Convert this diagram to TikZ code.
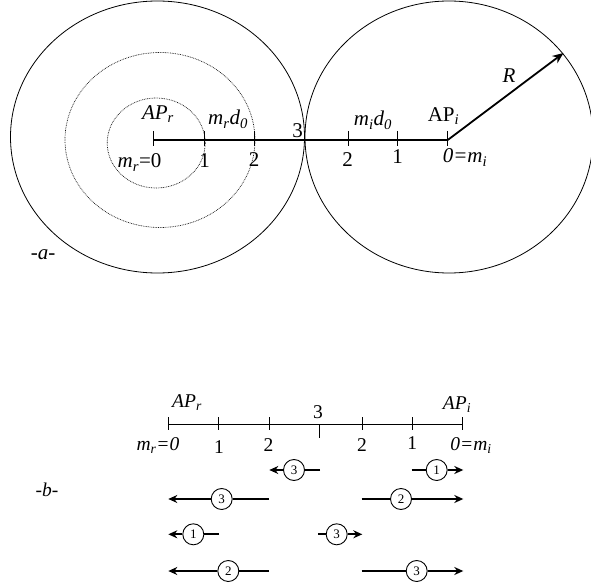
\documentclass[tikz,border=0pt]{standalone}
\usepackage{fontspec}
\setmainfont{Liberation Serif}
\usetikzlibrary{arrows.meta}
\begin{document}
\begin{tikzpicture}[x=1pt,y=-1pt,
  lbl/.style={inner sep=0pt, anchor=base, font=\fontsize{21}{25}\selectfont},
  lblb/.style={inner sep=0pt, anchor=base, font=\fontsize{19.5}{23}\selectfont},
  big/.style={line width=0.8pt},
  dot/.style={line width=0.7pt, dash pattern=on 0.8pt off 0.9pt, black!90},
  ax/.style={line width=1.2pt},
  tck/.style={line width=1pt},
  rarrow/.style={line width=1.8pt, -{Stealth[length=11pt,width=9pt]}},
  num/.style={circle, draw, line width=0.9pt, fill=white, inner sep=0pt, minimum size=21pt, font=\fontsize{13}{15}\selectfont},
  mv/.style={line width=1.8pt},
  mva/.style={line width=1.8pt, -{Stealth[length=9pt,width=8pt]}}]
\useasboundingbox (0,0) rectangle (591,585);
% ---------- part a ----------
\draw[big] (157.5,137) ellipse [x radius=147, y radius=136];
\draw[big] (449,137) ellipse [x radius=144, y radius=136];
\draw[dot] (156.2,143) ellipse [x radius=49, y radius=45];
\draw[dot] (160,140) ellipse [x radius=95, y radius=87.5];
\coordinate (apr) at (153.3,140);
\coordinate (api) at (447.7,140);
\coordinate (rtip) at (563.5,53);
\draw[ax] (apr) -- (api);
\foreach \x in {153.3,204.3,254.3,348.3,397.7,447.7}
  \draw[tck] (\x,131) -- (\x,146);
\draw[rarrow] (api) -- (rtip);
\node[lbl] (aAPr) at (158,119.3) {\textit{AP\textsubscript{r}}};
\node[lbl] (amrd) at (228,125) {\textit{m\textsubscript{r}d\textsubscript{0}}};
\node[lbl] (a3) at (297.5,138) {3};
\node[lbl] (amr0) at (139.5,168) {\textit{m\textsubscript{r}}=0};
\node[lbl] (a1l) at (204.5,168) {1};
\node[lbl] (a2l) at (254,166.7) {2};
\node[lbl] (amid) at (373,126) {\textit{m\textsubscript{i}d\textsubscript{0}}};
\node[lbl] (aAPi) at (443.5,121.7) {AP\textsubscript{\textit{i}}};
\node[lbl] (a2r) at (347.7,166.7) {2};
\node[lbl] (a1r) at (397.7,164) {1};
\node[lbl] (a0mi) at (465,163) {\textit{0=m\textsubscript{i}}};
\node[lbl] (aR) at (509,83) {\textit{R}};
\node[lbl] (alab) at (43,259) {\textit{-a-}};
% ---------- part b ----------
\coordinate (bl) at (168.3,424);
\coordinate (br) at (462.3,424);
\draw[tck] (bl) -- (br);
\foreach \x in {168.3,218.3,269,362.3,412.3,462.3}
  \draw[tck] (\x,417) -- (\x,430);
\draw[tck] (319.3,424) -- (319.3,438);
\node[lblb] (bAPr) at (187,407) {\textit{AP\textsubscript{r}}};
\node[lblb] (bAPi) at (457,409) {\textit{AP\textsubscript{i}}};
\node[lblb] (b3) at (318,418) {3};
\node[lblb] (bmr0) at (158,450) {\textit{m\textsubscript{r}=0}};
\node[lblb] (b1l) at (219,453) {1};
\node[lblb] (b2l) at (268.5,451.5) {2};
\node[lblb] (b2r) at (362,451.5) {2};
\node[lblb] (b1r) at (412.3,449.3) {1};
\node[lblb] (b0mi) at (471,450) {\textit{0=m\textsubscript{i}}};
\node[lblb] (blab) at (47,496) {\textit{-b-}};
% row 1
\coordinate (s1) at (320,470); \coordinate (e1) at (269.3,470);
\node[num] (c1) at (294,470) {3};
\draw[mv] (s1) -- (c1); \draw[mva] (c1) -- (e1);
\coordinate (s2) at (411.7,470); \coordinate (e2) at (463.3,470);
\node[num] (c2) at (436.7,470) {1};
\draw[mv] (s2) -- (c2); \draw[mva] (c2) -- (e2);
% row 2
\coordinate (s3) at (269,499); \coordinate (e3) at (168.3,499);
\node[num] (c3) at (221.7,499) {3};
\draw[mv] (s3) -- (c3); \draw[mva] (c3) -- (e3);
\coordinate (s4) at (361.7,499); \coordinate (e4) at (463.3,499);
\node[num] (c4) at (401,499) {2};
\draw[mv] (s4) -- (c4); \draw[mva] (c4) -- (e4);
% row 3
\coordinate (s5) at (219,534.3); \coordinate (e5) at (168.3,534.3);
\node[num] (c5) at (193.3,534.3) {1};
\draw[mv] (s5) -- (c5); \draw[mva] (c5) -- (e5);
\coordinate (s6) at (318.3,534.3); \coordinate (e6) at (362.3,534.3);
\node[num] (c6) at (336.7,534.3) {3};
\draw[mv] (s6) -- (c6); \draw[mva] (c6) -- (e6);
% row 4
\coordinate (s7) at (269,571); \coordinate (e7) at (168.3,571);
\node[num] (c7) at (228.3,571) {2};
\draw[mv] (s7) -- (c7); \draw[mva] (c7) -- (e7);
\coordinate (s8) at (361.7,571); \coordinate (e8) at (463.3,571);
\node[num] (c8) at (416.7,571) {3};
\draw[mv] (s8) -- (c8); \draw[mva] (c8) -- (e8);
\end{tikzpicture}
\end{document}
